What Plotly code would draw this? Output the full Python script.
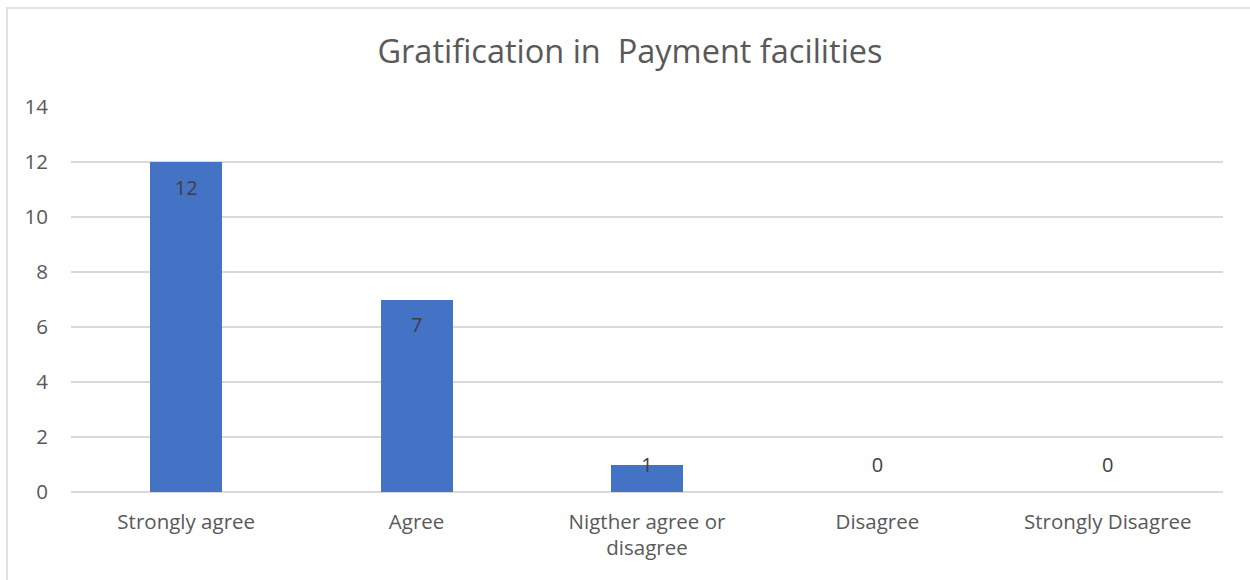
import plotly.graph_objects as go
import numpy as np

categories = ["Strongly agree", "Agree", "Nigther agree or<br>disagree", "Disagree", "Strongly Disagree"]
values = [12, 7, 1, 0, 0]
title_text = "Gratification in  Payment facilities"

FONT = "Open Sans, Noto Sans, sans-serif"
W, H = 1250, 580
ml, mr, mt, mb = 71, 27, 107, 88
pw = W - ml - mr
ph = H - mt - mb

vals = np.array(values, dtype=float)
# label sits just inside the bar end, but never below a minimum height
label_y = np.maximum(vals - 1.0, 0.91)

fig = go.Figure()
fig.add_trace(go.Bar(
    x=categories, y=values, marker=dict(color="#4472C4", line=dict(width=0)),
    width=0.3125, hoverinfo="skip",
))
fig.add_trace(go.Scatter(
    x=categories, y=label_y, mode="text", text=[str(v) for v in values],
    textposition="middle center",
    textfont=dict(family=FONT, size=20, color="#404040"),
    hoverinfo="skip", cliponaxis=False,
))

fig.update_layout(
    width=W, height=H,
    margin=dict(l=ml, r=mr, t=mt, b=mb),
    paper_bgcolor="white", plot_bgcolor="white",
    showlegend=False,
    bargap=0,
    title=dict(text=title_text, x=630 / W, xanchor="center",
               y=1 - 52 / H, yanchor="middle",
               font=dict(family=FONT, size=32.5, color="#595959")),
    xaxis=dict(showgrid=False, showline=False, ticks="", zeroline=False,
               tickfont=dict(family=FONT, size=20.5, color="#595959"),
               ticklabelstandoff=15),
    yaxis=dict(range=[0, 14], dtick=2, showgrid=True, gridcolor="#D9D9D9",
               gridwidth=1.5, zeroline=True, zerolinecolor="#D9D9D9", zerolinewidth=1.5,
               showline=False, ticks="",
               tickfont=dict(family=FONT, size=20.5, color="#595959"),
               ticklabelstandoff=22),
    shapes=[dict(type="rect", xref="paper", yref="paper",
                 x0=(7 - ml) / pw, x1=(1262 - ml) / pw,
                 y0=(H - mb - 600) / ph, y1=(H - mb - 8) / ph,
                 line=dict(color="#D9D9D9", width=1.5), fillcolor="rgba(0,0,0,0)",
                 layer="below")],
)

fig.write_html("out.html")
